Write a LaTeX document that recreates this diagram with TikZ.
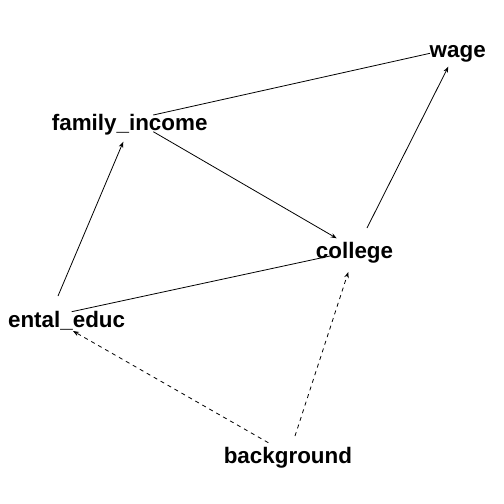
\documentclass[tikz,border=0pt]{standalone}
\usepackage{fontspec}
\setmainfont{Liberation Sans}
\usepackage{tikz}
\usetikzlibrary{arrows.meta, calc}

\begin{document}
\begin{tikzpicture}[
    x=1pt, y=-1pt,
    every node/.style={font=\fontsize{22.4}{26}\selectfont\bfseries},
    var/.style={inner sep=0pt, anchor=base},
    arrow/.style={-{Stealth[length=6pt, width=4.5pt]}, black, line width=0.8pt},
    hidden/.style={arrow, -},
    latent/.style={arrow, dashed, dash pattern=on 4pt off 4pt}
  ]
  \useasboundingbox (0,0) rectangle (504,504);

  % Variables
  \node[var] (wage) at (457.7, 57) {wage};
  \node[var] (fam) at (129.7, 130) {family\_income};
  \node[var] (college) at (354.5, 258.7) {college};
  \node[var] (parent) at (66.6, 327) {ental\_educ};
  \node[var] (bg) at (287.9, 463.7) {background};

  % Causal paths
  \draw[hidden] ($(fam.base)+(23.6,-15)$) -- ($(wage.base)+(-27.7,-3.7)$);
  \draw[arrow] ($(parent.base)+(-8.6,-31)$) -- ($(fam.base)+(-6.4,11.7)$);
  \draw[arrow] ($(fam.base)+(23.6,1.7)$) -- ($(college.base)+(-17.8,-20.4)$);
  \draw[arrow] ($(college.base)+(12.5,-30.7)$) -- ($(wage.base)+(-9.4,9.7)$);
  \draw[hidden] ($(parent.base)+(5.1,-15.3)$) -- ($(college.base)+(-24.5,-2.7)$);

  % Background paths
  \draw[latent] ($(bg.base)+(-19.6,-21)$) -- ($(parent.base)+(6.4,4)$);
  \draw[latent] ($(bg.base)+(7.1,-27.7)$) -- ($(college.base)+(-6.2,13.3)$);

\end{tikzpicture}
\end{document}
